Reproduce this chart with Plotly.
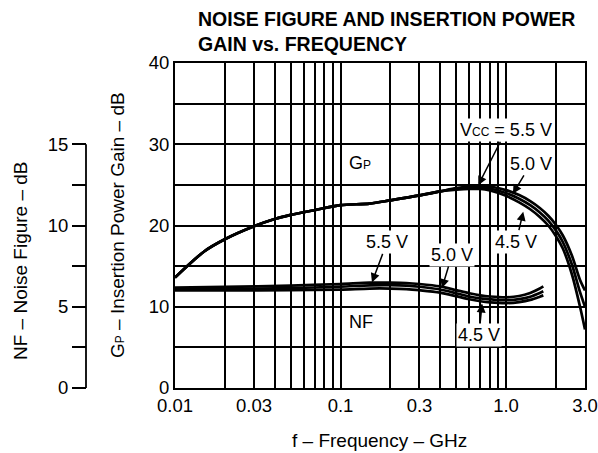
import plotly.graph_objects as go

# ---------------- data ----------------
GP_FREQ = [0.01, 0.015, 0.02, 0.03, 0.04, 0.05, 0.07, 0.1, 0.15, 0.2, 0.3, 0.4,
           0.5, 0.6, 0.7, 0.8, 1.0, 1.2, 1.4, 1.6, 1.8, 2.0, 2.2, 2.5, 2.8, 3.0]
GP_55 = [13.6, 16.8, 18.3, 19.9, 20.8, 21.3, 21.9, 22.5, 22.7, 23.1, 23.7, 24.2,
         24.6, 24.8, 24.9, 24.8, 24.35, 23.75, 23.0, 22.15, 21.2, 20.1, 18.8, 16.3, 13.3, 12.0]
GP_50 = [13.6, 16.8, 18.3, 19.9, 20.8, 21.3, 21.9, 22.5, 22.7, 23.1, 23.7, 24.2,
         24.5, 24.65, 24.7, 24.55, 24.0, 23.3, 22.5, 21.6, 20.6, 19.4, 18.0, 15.2, 11.8, 10.0]
GP_45 = [13.6, 16.8, 18.3, 19.9, 20.8, 21.3, 21.9, 22.5, 22.7, 23.1, 23.7, 24.2,
         24.4, 24.5, 24.5, 24.3, 23.65, 22.85, 22.0, 21.05, 20.0, 18.7, 17.2, 14.0, 10.0, 7.2]

NF_FREQ = [0.01, 0.02, 0.05, 0.1, 0.15, 0.2, 0.25, 0.3, 0.4, 0.5, 0.6, 0.7, 0.8,
           1.0, 1.2, 1.4, 1.6, 1.68]
NF_55 = [6.18, 6.22, 6.3, 6.4, 6.48, 6.48, 6.46, 6.4, 6.25, 6.02, 5.83, 5.7, 5.63,
         5.58, 5.66, 5.85, 6.12, 6.25]
NF_50 = [6.09, 6.1, 6.15, 6.24, 6.32, 6.33, 6.3, 6.23, 6.06, 5.83, 5.63, 5.52, 5.46,
         5.4, 5.47, 5.62, 5.85, 5.95]
NF_45 = [6.0, 6.0, 6.02, 6.06, 6.12, 6.12, 6.09, 6.02, 5.87, 5.65, 5.46, 5.34, 5.27,
         5.22, 5.29, 5.42, 5.62, 5.7]

X_TICKS = [0.01, 0.02, 0.03, 0.04, 0.05, 0.06, 0.07, 0.08, 0.09, 0.1,
           0.2, 0.3, 0.4, 0.5, 0.6, 0.7, 0.8, 0.9, 1.0, 2.0, 3.0]
X_LABELS = ["0.01", "", "0.03", "", "", "", "", "", "", "0.1",
            "", "0.3", "", "", "", "", "", "", "1.0", "", "3.0"]
GP_TICKS = [0, 5, 10, 15, 20, 25, 30, 35, 40]
GP_LABELS = ["0", "", "10", "", "20", "", "30", "", "40"]
NF_TICKS = [0, 2.5, 5, 7.5, 10, 12.5, 15]
NF_LABELS = ["0", "", "5", "", "10", "", "15"]

FONT = "Liberation Sans, Arial, Helvetica, sans-serif"
W, H = 598, 453
ML, MR, MT, MB = 40, 13, 63, 65
PW = W - ML - MR
PH = H - MT - MB


def px(xp):
    return (xp - ML) / PW


def py(yp):
    return (H - MB - yp) / PH


fig = go.Figure()
line = dict(color="black", width=2.7, shape="spline", smoothing=0.8)
for ys in (GP_55, GP_50, GP_45):
    fig.add_trace(go.Scatter(x=GP_FREQ, y=ys, mode="lines", line=line,
                             yaxis="y", showlegend=False, hoverinfo="skip"))
for ys in (NF_55, NF_50, NF_45):
    fig.add_trace(go.Scatter(x=NF_FREQ, y=ys, mode="lines", line=line,
                             yaxis="y2", showlegend=False, hoverinfo="skip"))

GRID = "black"
TICKF = dict(size=18.5)
fig.update_layout(
    width=W, height=H,
    margin=dict(l=ML, r=MR, t=MT, b=MB, autoexpand=False),
    paper_bgcolor="white", plot_bgcolor="rgba(0,0,0,0)",
    font=dict(family=FONT, color="black", size=17),
    xaxis=dict(type="log", range=[-2, 0.47712], domain=[px(175), 1],
               tickmode="array", tickvals=X_TICKS, ticktext=X_LABELS,
               showgrid=True, gridcolor=GRID, gridwidth=1.6,
               showline=True, linecolor="black", linewidth=1.8, mirror=True,
               ticks="", zeroline=False, tickfont=TICKF),
    yaxis=dict(range=[0, 40], tickmode="array", tickvals=GP_TICKS, ticktext=GP_LABELS,
               showgrid=True, gridcolor=GRID, gridwidth=1.6,
               showline=True, linecolor="black", linewidth=1.8, mirror=True,
               ticks="", zeroline=False, tickfont=TICKF),
    yaxis2=dict(range=[0, 20], overlaying="y", anchor="free", position=px(86),
                side="left", tickmode="array", tickvals=NF_TICKS, ticktext=NF_LABELS,
                showgrid=False, zeroline=False, showline=False,
                ticks="outside", ticklen=14, tickwidth=1.6, tickcolor="black",
                tickfont=TICKF),
)

# NF axis line (only from 0 to 15)
fig.add_shape(type="line", xref="paper", yref="y2", x0=px(86), x1=px(86), y0=0, y1=15,
              line=dict(color="black", width=1.8))

C = dict(xref="paper", yref="paper", xanchor="center", yanchor="middle", showarrow=False)
ann = []
# title
ann.append(dict(text="<b>NOISE FIGURE AND INSERTION POWER<br>GAIN vs. FREQUENCY</b>",
                xref="paper", yref="paper", x=px(196), y=py(6), xanchor="left", yanchor="top",
                align="left", showarrow=False, font=dict(size=19.5)))
# axis titles
ann.append(dict(text="f – Frequency – GHz", x=px(379), y=py(440), font=dict(size=19), **C))
ann.append(dict(text="G<span style='font-size:12px'>P</span> – Insertion Power Gain – dB",
                x=px(117), y=py(225), textangle=-90, font=dict(size=19), **C))
ann.append(dict(text="NF – Noise Figure – dB", x=px(20), y=py(261), textangle=-90,
                font=dict(size=19), **C))
# curve labels
ann.append(dict(text="G<span style='font-size:12px'>P</span>", x=px(360), y=py(163),
                font=dict(size=18), bgcolor="white", borderpad=1, **C))
ann.append(dict(text="NF", x=px(361), y=py(322), font=dict(size=18),
                bgcolor="white", borderpad=1, **C))

arrow = dict(showarrow=True, arrowhead=2, arrowsize=1.2, arrowwidth=1.5,
             arrowcolor="black", font=dict(size=18), bgcolor="white", borderpad=1)
# Gp voltage labels
ann.append(dict(text="V<span style='font-size:12px'>CC</span> = 5.5 V", xref="x", yref="y",
                x=-0.168, y=24.95, ax=28, ay=-55, **arrow))
ann.append(dict(text="5.0 V", xref="x", yref="y", x=0.041, y=23.9, ax=18, ay=-30, **arrow))
ann.append(dict(text="4.5 V", xref="x", yref="y", x=0.104, y=21.7, ax=-7, ay=30, **arrow))
# NF voltage labels
ann.append(dict(text="5.5 V", xref="x", yref="y2", x=-0.81, y=6.5, ax=15, ay=-40, **arrow))
ann.append(dict(text="5.0 V", xref="x", yref="y2", x=-0.387, y=6.15, ax=10, ay=-33, **arrow))
ann.append(dict(text="4.5 V", xref="x", yref="y2", x=-0.145, y=5.2, ax=-3, ay=31, **arrow))

fig.update_layout(annotations=ann)
fig.write_html("out.html", config={"displayModeBar": False},
               post_script="document.body.style.margin='0px';")
